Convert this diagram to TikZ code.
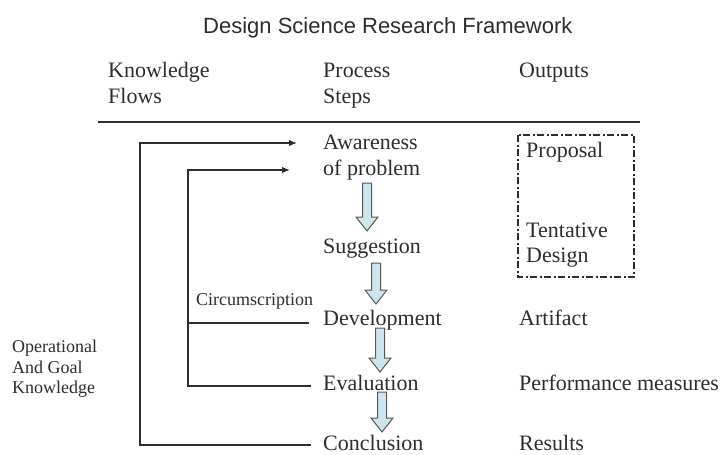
\documentclass[tikz,border=0pt]{standalone}
\usepackage{fontspec}
\setmainfont{Liberation Serif}
\newfontfamily\titlefont{Liberation Sans}
\usetikzlibrary{arrows.meta}
\definecolor{ink}{RGB}{45,45,45}
\definecolor{blkfill}{RGB}{205,230,238}
\newcommand{\blkarrow}[3]{\filldraw[blk] ({#1-4.5},#2) -- ({#1+4.5},#2) -- ({#1+4.5},{#3-14}) -- ({#1+11},{#3-14}) -- (#1,#3) -- ({#1-11},{#3-14}) -- ({#1-4.5},{#3-14}) -- cycle;}
\tikzset{
  txt/.style={anchor=base west, inner sep=0pt, text=ink, font=\fontsize{22}{26}\selectfont},
  small/.style={anchor=base west, inner sep=0pt, text=ink, font=\fontsize{18}{21}\selectfont},
  flow/.style={draw=ink, line width=1.4pt},
  flowarrow/.style={flow, -{Latex[length=8pt,width=6.5pt]}},
  blk/.style={draw=ink!80, fill=blkfill, line width=1pt, line join=miter},
  dashbox/.style={draw=ink, line width=1.7pt, dash pattern=on 7pt off 2.5pt on 2pt off 2.5pt}
}
\begin{document}
\begin{tikzpicture}[x=1pt, y=-1pt]
\useasboundingbox (0,0) rectangle (723,455);
% title
\node[anchor=base west, inner sep=0pt, text=ink, font=\titlefont\fontsize{22}{26}\selectfont] (title) at (203,33) {Design Science Research Framework};
% headers
\node[txt] (kn1) at (108,77) {Knowledge};
\node[txt] (kn2) at (108,103) {Flows};
\node[txt] (ps1) at (323,77) {Process};
\node[txt] (ps2) at (323,103) {Steps};
\node[txt] (out) at (519,77) {Outputs};
\draw[ink, line width=1.8pt] (98,122) -- (640,122);
% process steps
\node[txt] (aw1) at (323,149) {Awareness};
\node[txt] (aw2) at (323,175) {of problem};
\node[txt] (sug) at (323,253) {Suggestion};
\node[txt] (dev) at (323,325) {Development};
\node[txt] (eva) at (323,390) {Evaluation};
\node[txt] (con) at (323,450) {Conclusion};
% outputs
\node[txt] (prop) at (526,157) {Proposal};
\node[txt] (tent) at (526,237) {Tentative};
\node[txt] (des) at (526,262) {Design};
\node[txt] (art) at (519,325) {Artifact};
\node[txt] (perf) at (519,390) {Performance measures};
\node[txt] (res) at (519,450) {Results};
\draw[dashbox] (518,135) rectangle (634,277);
% small labels
\node[small] (circ) at (196,305) {Circumscription};
\node[small] (op1) at (12,352) {Operational};
\node[small] (op2) at (12,373) {And Goal};
\node[small] (op3) at (12,393) {Knowledge};
% block arrows
\blkarrow{367}{183}{231}
\blkarrow{376}{263}{304}
\blkarrow{380}{328}{372}
\blkarrow{382}{392}{432}
% knowledge flows
\coordinate (oc) at (140,445);
\coordinate (ot) at (140,143);
\coordinate (otip) at (297,143);
\coordinate (ic) at (188,386);
\coordinate (it) at (188,170);
\coordinate (itip) at (290,170);
\coordinate (conend) at (311,445);
\coordinate (evaend) at (311,386);
\coordinate (devend) at (309,323);
\coordinate (idev) at (188,323);
\draw[flowarrow] (conend) -- (oc) -- (ot) -- (otip);
\draw[flowarrow] (evaend) -- (ic) -- (it) -- (itip);
\draw[flow] (devend) -- (idev);
\end{tikzpicture}
\end{document}
